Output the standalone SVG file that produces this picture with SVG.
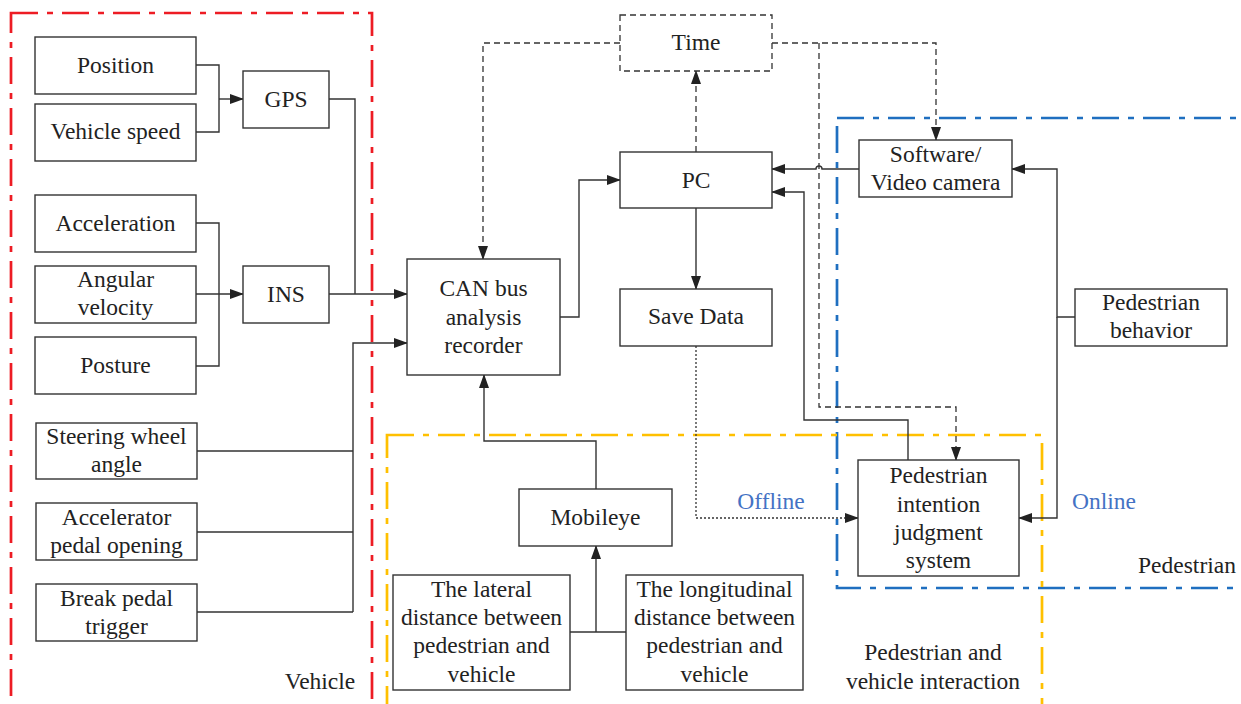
<svg xmlns="http://www.w3.org/2000/svg" width="1241" height="704" viewBox="0 0 1241 704">
<style>
.box{fill:#fff;stroke:#333;stroke-width:1.4}
.dbox{fill:#fff;stroke:#333;stroke-width:1.3;stroke-dasharray:6 4}
.t{font-family:'Liberation Serif',serif;font-size:23.5px;fill:#222;text-anchor:middle}
.lb{font-family:'Liberation Serif',serif;font-size:23.5px;fill:#4472C4;text-anchor:middle}
.ln{fill:none;stroke:#333;stroke-width:1.4}
.ar{fill:none;stroke:#333;stroke-width:1.4;marker-end:url(#ah)}
.dar{fill:none;stroke:#333;stroke-width:1.3;stroke-dasharray:6 4;marker-end:url(#ah)}
.dot{fill:none;stroke:#333;stroke-width:1.3;stroke-dasharray:2 2;marker-end:url(#ah)}
.grp{fill:none;stroke-width:2.7;stroke-dasharray:27 9 6 9}
</style>
<defs>
<marker id="ah" markerUnits="userSpaceOnUse" markerWidth="14" markerHeight="10" refX="13" refY="5" orient="auto">
<path d="M0,0 L14,5 L0,10 Z" fill="#222"/>
</marker>
</defs>
<rect width="1241" height="704" fill="#fff"/>

<g id="groups">
<rect class="grp" x="11" y="13" width="361" height="720" stroke="#ED1C24"/>
<rect class="grp" x="837" y="118" width="440" height="470" stroke="#1F6FC0"/>
<rect class="grp" x="387" y="435" width="655" height="300" stroke="#FFC000"/>
</g>

<g id="connectors">
<path class="ln" d="M196,65 H219 V132 H196"/>
<path class="ar" d="M219,99 H243"/>
<path class="ln" d="M196,223 H219 V366 H196"/>
<path class="ar" d="M196,294 H243"/>
<path class="ln" d="M329,99 H355 V294"/>
<path class="ar" d="M329,294 H407"/>
<path class="ln" d="M197,451 H353 M197,532 H353 M197,612 H353"/>
<path class="ar" d="M353,612 V343 H407"/>
<path class="ar" d="M560,317 H579 V180 H620"/>
<path class="dar" d="M696,152 V71"/>
<path class="dar" d="M620,43 H483 V259"/>
<path class="dar" d="M772,43 H936 V140"/>
<path class="dar" d="M819,43 V407 H956 V460"/>
<path class="ar" d="M859,169 H822 A3,3 0 0 0 816,169 H772"/>
<path class="ar" d="M908,460 V420 H804 V192 H772"/>
<path class="ar" d="M696,208 V289"/>
<path class="dot" d="M696,346 V518 H858"/>
<path class="ar" d="M1075,317 H1057 V169 H1012"/>
<path class="ar" d="M1057,317 V518 H1019"/>
<path class="ar" d="M596,489 V441 H484 V375"/>
<path class="ln" d="M570,632 H626"/>
<path class="ar" d="M596,632 V546"/>
</g>

<g id="position"><rect class="box" x="35" y="37" width="161" height="57"/><text class="t" x="115.5" y="73">Position</text></g>
<g id="vehicle-speed"><rect class="box" x="35" y="104" width="161" height="57"/><text class="t" x="115.5" y="139">Vehicle speed</text></g>
<g id="acceleration"><rect class="box" x="35" y="195" width="161" height="57"/><text class="t" x="115.5" y="231">Acceleration</text></g>
<g id="angular-velocity"><rect class="box" x="35" y="266" width="161" height="57"/><text class="t" x="115.5" y="287">Angular</text><text class="t" x="115.5" y="315">velocity</text></g>
<g id="posture"><rect class="box" x="35" y="337" width="161" height="57"/><text class="t" x="115.5" y="373">Posture</text></g>
<g id="gps"><rect class="box" x="243" y="71" width="86" height="57"/><text class="t" x="286" y="107">GPS</text></g>
<g id="ins"><rect class="box" x="243" y="266" width="86" height="57"/><text class="t" x="286" y="302">INS</text></g>
<g id="steering"><rect class="box" x="36" y="423" width="161" height="56"/><text class="t" x="116.5" y="444">Steering wheel</text><text class="t" x="116.5" y="472">angle</text></g>
<g id="accelerator"><rect class="box" x="36" y="503" width="161" height="57"/><text class="t" x="116.5" y="525">Accelerator</text><text class="t" x="116.5" y="553">pedal opening</text></g>
<g id="break"><rect class="box" x="36" y="584" width="161" height="57"/><text class="t" x="116.5" y="606">Break pedal</text><text class="t" x="116.5" y="634">trigger</text></g>
<g id="can"><rect class="box" x="407" y="259" width="153" height="116"/><text class="t" x="483.5" y="296">CAN bus</text><text class="t" x="483.5" y="325">analysis</text><text class="t" x="483.5" y="353">recorder</text></g>
<g id="time"><rect class="dbox" x="620" y="15" width="152" height="56"/><text class="t" x="696" y="50">Time</text></g>
<g id="pc"><rect class="box" x="620" y="152" width="152" height="56"/><text class="t" x="696" y="188">PC</text></g>
<g id="save-data"><rect class="box" x="620" y="289" width="152" height="57"/><text class="t" x="696" y="324">Save Data</text></g>
<g id="software"><rect class="box" x="859" y="140" width="153" height="57"/><text class="t" x="935.5" y="162">Software/</text><text class="t" x="935.5" y="190">Video camera</text></g>
<g id="ped-behavior"><rect class="box" x="1075" y="289" width="152" height="57"/><text class="t" x="1151" y="310">Pedestrian</text><text class="t" x="1151" y="338">behavior</text></g>
<g id="ped-intention"><rect class="box" x="858" y="460" width="161" height="116"/><text class="t" x="938.5" y="483">Pedestrian</text><text class="t" x="938.5" y="512">intention</text><text class="t" x="938.5" y="540">judgment</text><text class="t" x="938.5" y="568">system</text></g>
<g id="mobileye"><rect class="box" x="519" y="489" width="153" height="57"/><text class="t" x="595.5" y="525">Mobileye</text></g>
<g id="lateral"><rect class="box" x="393" y="575" width="177" height="115"/><text class="t" x="481.5" y="597">The lateral</text><text class="t" x="481.5" y="625">distance between</text><text class="t" x="481.5" y="653">pedestrian and</text><text class="t" x="481.5" y="682">vehicle</text></g>
<g id="longitudinal"><rect class="box" x="626" y="575" width="177" height="115"/><text class="t" x="714.5" y="597">The longitudinal</text><text class="t" x="714.5" y="625">distance between</text><text class="t" x="714.5" y="653">pedestrian and</text><text class="t" x="714.5" y="682">vehicle</text></g>

<g id="labels">
<text class="t" x="320" y="689">Vehicle</text>
<text class="t" x="1187" y="573">Pedestrian</text>
<text class="t" x="933" y="660">Pedestrian and</text>
<text class="t" x="933" y="689">vehicle interaction</text>
<text class="lb" x="771" y="509">Offline</text>
<text class="lb" x="1104" y="509">Online</text>
</g>
</svg>
